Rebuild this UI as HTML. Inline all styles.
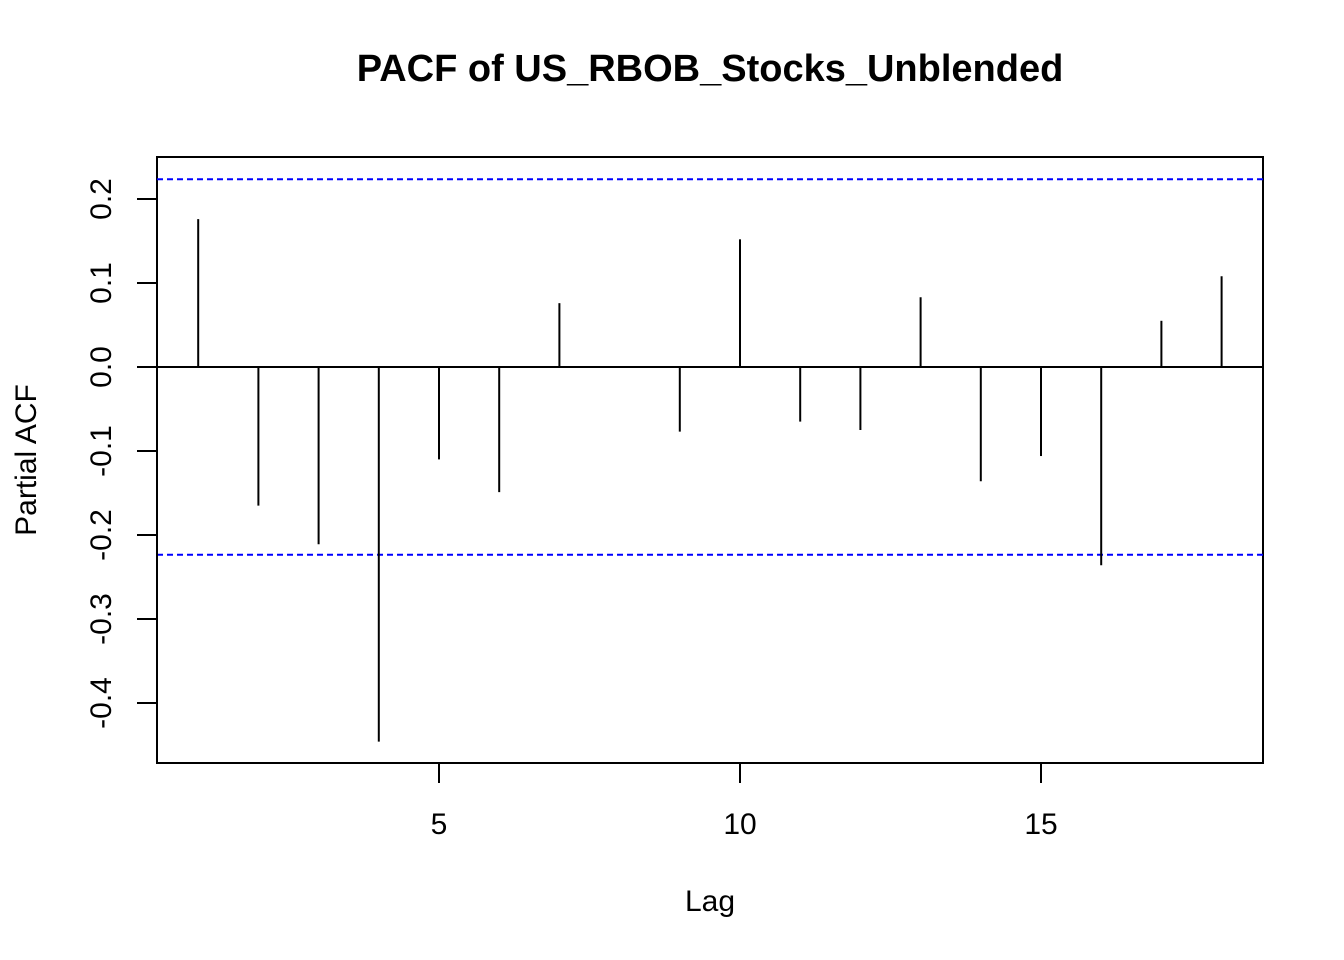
<!DOCTYPE html>
<html><head><meta charset="utf-8"><style>
body{margin:0;background:#fff}
svg{display:block;font-family:"Liberation Sans",Arial,sans-serif}
</style></head><body>
<svg id="chart" width="1344" height="960">
<text x="710" y="81" text-anchor="middle" font-size="38" font-weight="bold">PACF of US_RBOB_Stocks_Unblended</text>
<rect x="157" y="157" width="1106" height="606" fill="none" stroke="#000" stroke-width="2"/>
<text x="710" y="911" text-anchor="middle" font-size="30">Lag</text>
<text transform="translate(36,460) rotate(-90)" text-anchor="middle" font-size="30">Partial ACF</text>
<g id="marks"></g>
</svg>
<script>
const lags=[1,2,3,4,5,6,7,8,9,10,11,12,13,14,15,16,17,18];
const pacf=[0.176,-0.165,-0.211,-0.446,-0.110,-0.149,0.076,0.001,-0.077,0.152,-0.065,-0.075,0.083,-0.136,-0.106,-0.236,0.055,0.108];
const ciBound=0.2235;
const xTicks=[5,10,15];
const yTicks=[-0.4,-0.3,-0.2,-0.1,0.0,0.1,0.2];
const yTickLabels=["-0.4","-0.3","-0.2","-0.1","0.0","0.1","0.2"];
const NS='http://www.w3.org/2000/svg';
const xs=v=>198.2+(v-1)*60.2;
const ys=v=>367-v*840;
const g=document.getElementById('marks');
function mk(t,a){const e=document.createElementNS(NS,t);for(const k in a)e.setAttribute(k,a[k]);g.appendChild(e);return e;}
let e=mk('line',{x1:157,x2:1263,y1:ys(0),y2:ys(0),stroke:'#000','stroke-width':2});


[ciBound,-ciBound].forEach((b,i)=>{
 const l=mk('line',{x1:157,x2:1263,y1:ys(b),y2:ys(b),stroke:'#0000ff','stroke-width':2,'stroke-dasharray':'6,4'});
 
 
});
lags.forEach((L,i)=>{
 const l=mk('line',{x1:xs(L),x2:xs(L),y1:ys(0),y2:ys(pacf[i]),stroke:'#000','stroke-width':2});
 
 
});
xTicks.forEach(t=>{
 const l=mk('line',{x1:xs(t),x2:xs(t),y1:763,y2:783,stroke:'#000','stroke-width':2});
 
 
 const tx=mk('text',{x:xs(t),y:834,'text-anchor':'middle','font-size':30});
 tx.textContent=t;
 
 
});
yTicks.forEach((t,i)=>{
 const l=mk('line',{x1:137,x2:157,y1:ys(t),y2:ys(t),stroke:'#000','stroke-width':2});
 
 
 const tx=mk('text',{transform:`translate(111,${ys(t)}) rotate(-90)`,'text-anchor':'middle','font-size':30});
 tx.textContent=yTickLabels[i];
 
 
});
const ax=mk('line',{x1:xs(5),x2:xs(15),y1:763,y2:763,stroke:'#000','stroke-width':2});


const ay=mk('line',{x1:157,x2:157,y1:ys(-0.4),y2:ys(0.2),stroke:'#000','stroke-width':2});


</script>
</body></html>
